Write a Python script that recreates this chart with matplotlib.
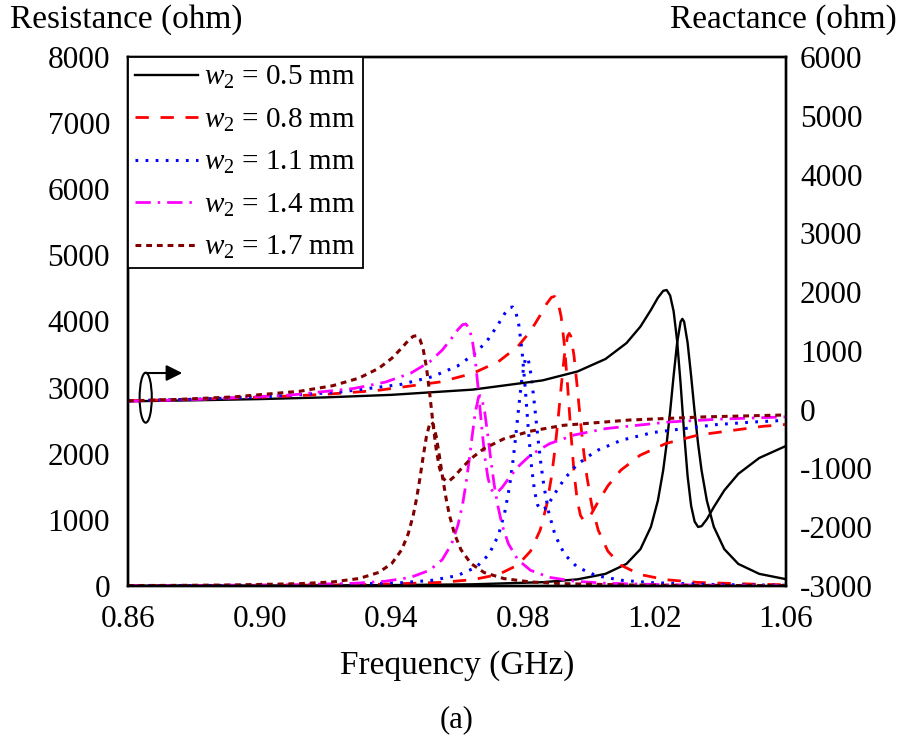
import matplotlib
matplotlib.use('Agg')
import matplotlib.pyplot as plt
from matplotlib.patches import Ellipse
from matplotlib.lines import Line2D

plt.rcParams['font.family'] = ['Liberation Serif', 'DejaVu Serif']
plt.rcParams['mathtext.fontset'] = 'custom'
plt.rcParams['mathtext.it'] = 'Liberation Serif:italic'
plt.rcParams['mathtext.rm'] = 'Liberation Serif'
plt.rcParams['axes.unicode_minus'] = False

# ---------------- data ----------------
labels = [r'$w_2$ = 0.5 mm', r'$w_2$ = 0.8 mm', r'$w_2$ = 1.1 mm',
          r'$w_2$ = 1.4 mm', r'$w_2$ = 1.7 mm']

freq_05 = [0.86, 0.88, 0.90, 0.92, 0.94, 0.96475, 0.986, 0.99663, 1.00513, 1.0115, 1.01575,
           1.01894, 1.02106, 1.02266, 1.02372, 1.02478, 1.02584, 1.02691, 1.02797, 1.0285,
           1.02903, 1.03009, 1.03116, 1.03222, 1.03328, 1.03434, 1.03594, 1.03806, 1.04125,
           1.0455, 1.05187, 1.06]
res_05 = [3.7, 4.8, 6.4, 8.9, 13.4, 25.7, 57.4, 100.8, 183.6, 333.7, 557.1, 894.5, 1292, 1747,
          2150, 2638, 3178, 3680, 3997, 4040, 3997, 3680, 3178, 2638, 2150, 1747, 1292, 894.5,
          557.1, 333.7, 183.6, 103]
reac_05 = [142, 159, 180, 209, 252, 341, 498, 650, 862, 1132, 1413, 1697, 1904, 2021, 2036, 1943,
           1675, 1170, 437, 20, -397, -1130, -1635, -1903, -1996, -1981, -1864, -1657, -1373,
           -1092, -822, -617]

freq_08 = [0.86, 0.88, 0.90, 0.92, 0.93535, 0.95493, 0.96473, 0.97256, 0.97843, 0.98235, 0.98529,
           0.98725, 0.98872, 0.98969, 0.99067, 0.99165, 0.99263, 0.99361, 0.9941, 0.99459,
           0.99557, 0.99655, 0.99753, 0.99851, 0.99949, 1.00095, 1.00291, 1.00585, 1.00977,
           1.01564, 1.02348, 1.03327, 1.05285, 1.06]
res_08 = [4.7, 6.5, 9.5, 15.3, 24.3, 54.2, 95.3, 173.6, 315.5, 526.8, 845.7, 1222, 1652, 2033,
          2494, 3005, 3480, 3779, 3820, 3779, 3480, 3005, 2494, 2033, 1652, 1222, 845.7, 526.8,
          315.5, 173.6, 95.3, 54.2, 24.3, 19.3]
reac_08 = [154, 177, 210, 261, 324, 472, 616, 816, 1071, 1337, 1606, 1802, 1912, 1926, 1839, 1585,
           1108, 414, 20, -374, -1068, -1545, -1799, -1886, -1872, -1762, -1566, -1297, -1031,
           -776, -576, -432, -284, -251]

freq_11 = [0.86, 0.88, 0.90, 0.9237, 0.94287, 0.95245, 0.96012, 0.96587, 0.9697, 0.97258, 0.97449,
           0.97593, 0.97689, 0.97785, 0.9788, 0.97976, 0.98072, 0.9812, 0.98168, 0.98264, 0.9836,
           0.98455, 0.98551, 0.98647, 0.98791, 0.98983, 0.9927, 0.99653, 1.00228, 1.00995,
           1.01953, 1.0387, 1.05, 1.06]
res_11 = [5.0, 7.1, 11.1, 22.0, 49.1, 86.4, 157.3, 285.8, 477.1, 766.0, 1107, 1496, 1841, 2259,
          2722, 3152, 3423, 3460, 3423, 3152, 2722, 2259, 1841, 1496, 1107, 766.0, 477.1, 285.8,
          157.3, 86.4, 49.1, 22.0, 15.4, 11.8]
reac_11 = [151, 177, 215, 295, 429, 560, 741, 972, 1213, 1457, 1634, 1734, 1747, 1667, 1438, 1005,
           377, 20, -337, -965, -1398, -1627, -1707, -1694, -1594, -1417, -1173, -932, -701,
           -520, -389, -255, -210, -181]

freq_14 = [0.86, 0.88, 0.9095, 0.92867, 0.93825, 0.94592, 0.95167, 0.9555, 0.95838, 0.96029,
           0.96173, 0.96269, 0.96365, 0.9646, 0.96556, 0.96652, 0.967, 0.96748, 0.96844, 0.9694,
           0.97035, 0.97131, 0.97227, 0.97371, 0.97563, 0.9785, 0.98233, 0.98808, 0.99575,
           1.00533, 1.0245, 1.04, 1.06]
res_14 = [5.3, 8.0, 18.3, 40.9, 71.9, 130.9, 237.9, 397.2, 637.6, 921.0, 1245, 1533, 1880, 2265,
          2624, 2849, 2880, 2849, 2624, 2265, 1880, 1533, 1245, 921.0, 637.6, 397.2, 237.9, 130.9,
          71.9, 40.9, 18.3, 11.4, 7.0]
reac_14 = [144, 172, 249, 361, 469, 620, 813, 1013, 1216, 1363, 1447, 1457, 1391, 1200, 840, 317,
           20, -277, -800, -1160, -1351, -1417, -1407, -1323, -1176, -973, -773, -580, -429, -321,
           -209, -161, -122]

freq_17 = [0.86, 0.875, 0.8922, 0.9122, 0.9222, 0.9302, 0.9362, 0.9402, 0.9432, 0.9452, 0.9467,
           0.9477, 0.9487, 0.9497, 0.9507, 0.9517, 0.9522, 0.9527, 0.9537, 0.9547, 0.9557, 0.9567,
           0.9577, 0.9592, 0.9612, 0.9642, 0.9682, 0.9742, 0.9822, 0.9922, 1.0122, 1.035, 1.06]
res_17 = [6.7, 9.5, 15.8, 35.2, 61.9, 112.7, 204.8, 342.0, 549.1, 793.1, 1072, 1320, 1619, 1951,
          2259, 2453, 2480, 2453, 2259, 1951, 1619, 1320, 1072, 793.1, 549.1, 342.0, 204.8, 112.7,
          61.9, 35.2, 15.8, 8.3, 4.9]
reac_17 = [149, 174, 217, 313, 407, 537, 703, 875, 1050, 1177, 1249, 1258, 1201, 1036, 726, 276,
           20, -236, -686, -996, -1161, -1218, -1209, -1137, -1010, -835, -663, -497, -367, -267,
           -177, -123, -90]

x_ticks = [0.86, 0.90, 0.94, 0.98, 1.02, 1.06]
x_ticklabels = ['0.86', '0.90', '0.94', '0.98', '1.02', '1.06']
res_ticks = [0, 1000, 2000, 3000, 4000, 5000, 6000, 7000, 8000]
reac_ticks = [-3000, -2000, -1000, 0, 1000, 2000, 3000, 4000, 5000, 6000]

# ---------------- styles ----------------
styles = [
    dict(color='black', lw=1.7, ls='-'),
    dict(color='#FF0000', lw=2.0, dashes=(4.8, 4.2)),
    dict(color='#0000FF', lw=2.2, dashes=(0.9, 2.4)),
    dict(color='#FF00FF', lw=2.0, dashes=(5.5, 2.5, 0.9, 2.5)),
    dict(color='#800000', lw=2.2, dashes=(1.9, 1.6)),
]

freqs = [freq_05, freq_08, freq_11, freq_14, freq_17]
ress = [res_05, res_08, res_11, res_14, res_17]
reacs = [reac_05, reac_08, reac_11, reac_14, reac_17]

fig = plt.figure(figsize=(9.03, 7.42), dpi=100)
ax = fig.add_axes([128 / 903, 1 - 586 / 742, 658 / 903, 529 / 742])
ax2 = ax.twinx()

handles = []
for f, r, x, st in zip(freqs, ress, reacs, styles):
    ax.plot(f, r, **st)
    ax2.plot(f, x, **st)
    handles.append(Line2D([], [], **st))

ax.set_xlim(0.86, 1.06)
ax.set_ylim(0, 8000)
ax2.set_ylim(-3000, 6000)
ax.set_xticks(x_ticks)
ax.set_xticklabels(x_ticklabels)
ax.set_yticks(res_ticks)
ax2.set_yticks(reac_ticks)
ax.tick_params(axis='both', length=0, labelsize=22.5)
ax.tick_params(axis='y', pad=13)
ax.tick_params(axis='x', pad=14)
ax2.tick_params(axis='y', length=0, labelsize=22.5, pad=10)
for a in (ax, ax2):
    for s in a.spines.values():
        s.set_linewidth(1.7)

ax.set_xlabel('Frequency (GHz)', fontsize=24, labelpad=11)
fig.text(10 / 903, 1 - 20 / 742, 'Resistance (ohm)', fontsize=24, ha='left', va='center')
fig.text(897 / 903, 1 - 20 / 742, 'Reactance (ohm)', fontsize=24, ha='right', va='center')
fig.text(457 / 903, 1 - 720 / 742, '(a)', fontsize=22, ha='center', va='center')

# ellipse + arrow marking the reactance curves (right axis)
ell = Ellipse((0.86538, 2848), 0.0037, 756, fill=False, lw=1.5, color='black', zorder=5)
ax.add_patch(ell)
ax.annotate('', xy=(0.8765, 3221), xytext=(0.86538, 3221),
            arrowprops=dict(arrowstyle='-|>', color='black', lw=1.5, mutation_scale=24,
                            shrinkA=0, shrinkB=0), zorder=5)

leg = ax2.legend(handles, labels, loc='upper left', bbox_to_anchor=(0, 1), borderaxespad=0,
                 fontsize=21, fancybox=False, framealpha=1, edgecolor='black',
                 handlelength=2.15, handletextpad=0.2, labelspacing=0.52, borderpad=0.25)
leg.get_frame().set_linewidth(1.3)

fig.savefig('out.png', dpi=100)
